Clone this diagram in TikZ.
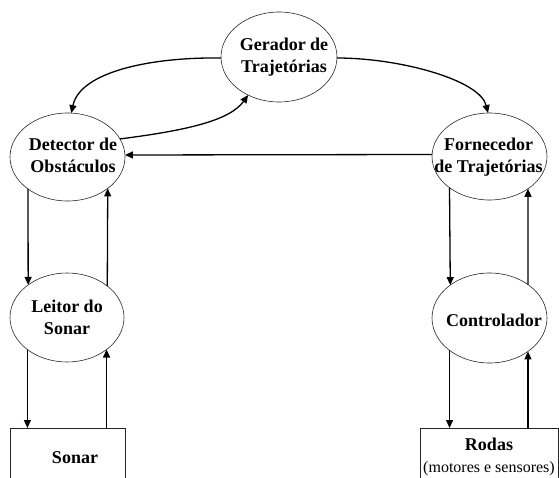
\documentclass[tikz,border=0pt]{standalone}
\usepackage{fontspec}
\setmainfont{Liberation Serif}
\usetikzlibrary{shapes.geometric,arrows.meta}
\newcommand\ztxt[3]{\makebox[0pt]{\hspace*{#1}\raisebox{\dimexpr#2-4.5pt\relax}[0pt][0pt]{\begin{tabular}{@{}c@{}}#3\end{tabular}}}}
\begin{document}
\begin{tikzpicture}[x=1pt,y=-1pt,
  proc/.style={ellipse,draw=black!85,line width=0.6pt,inner sep=0pt,outer sep=0pt,
    minimum width=115pt,minimum height=88pt,font=\fontsize{18}{22}\selectfont\bfseries},
  dev/.style={rectangle,draw=black!85,line width=0.6pt,inner sep=0pt,outer sep=0pt,
    minimum width=115pt,minimum height=70pt,font=\fontsize{18}{22}\selectfont\bfseries},
  arr/.style={-{Triangle[length=8pt,width=7pt]},line width=1.3pt}]
\useasboundingbox (0,0) rectangle (559,478);
\clip (0,0) rectangle (559,478);
\node[proc,minimum width=116pt,minimum height=90pt] (ger) at (279,57) {\ztxt{10pt}{0pt}{Gerador de\\Trajetórias}};
\node[proc] (det) at (67.5,157) {\ztxt{11pt}{0pt}{Detector de\\Obstáculos}};
\node[proc,minimum height=87pt] (forn) at (489.5,156.5) {\ztxt{-2pt}{0pt}{Fornecedor\\de Trajetórias}};
\node[proc,minimum width=114pt,minimum height=89pt] (leit) at (67,317.5) {\ztxt{0pt}{-1pt}{Leitor do\\Sonar}};
\node[proc,minimum height=90pt] (ctrl) at (489.5,318) {\ztxt{9pt}{-3.5pt}{Controlador}};
\node[dev] (sonar) at (67.5,463) {\ztxt{15pt}{4pt}{Sonar}};
\node[dev,minimum width=138pt] (rodas) at (489,463) {\ztxt{0pt}{6pt}{Rodas\\\fontsize{16}{22}\selectfont\mdseries (motores e sensores)}};
\draw[arr] (ger.181) .. controls (150,57) and (80,72) .. (det.85);
\draw[arr] (ger.-1) .. controls (400,58) and (480,80) .. (forn.92);
\draw[arr] (det.19) .. controls (190,130) and (230,120) .. (ger.231);
\draw[arr] (forn.178.5) -- (det.2);
\draw[arr] (det.219) -- (leit.140.2);
\draw[arr] (leit.38.4) -- (det.322.4);
\draw[arr] (leit.219.8) -- (leit.219.8 |- sonar.north);
\draw[arr] (leit.321.6 |- sonar.north) -- (leit.321.6);
\draw[arr] (forn.218.7) -- (ctrl.140.4);
\draw[arr] (ctrl.41) -- (forn.320);
\draw[arr] (ctrl.219.6) -- (ctrl.219.6 |- rodas.north);
\draw[arr] (ctrl.319 |- rodas.north) -- (ctrl.319);
\end{tikzpicture}
\end{document}
